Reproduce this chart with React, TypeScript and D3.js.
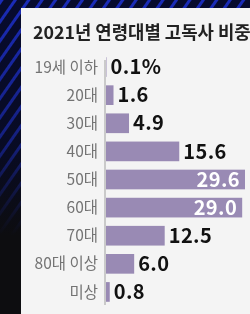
import React from 'react';
import * as d3 from 'd3';

const categories = ['19세 이하', '20대', '30대', '40대', '50대', '60대', '70대', '80대 이상', '미상'];
const values = [0.1, 1.6, 4.9, 15.6, 29.6, 29.0, 12.5, 6.0, 0.8];
const valueLabels = ['0.1%', '1.6', '4.9', '15.6', '29.6', '29.0', '12.5', '6.0', '0.8'];
const title = '2021년 연령대별 고독사 비중';

const W = 250;
const H = 314;
const PANEL_X = 21;
const PANEL_Y = 8;
const AXIS_X = 105;

const App: React.FC = () => {
  const y = d3.scaleBand<string>()
    .domain(categories)
    .range([53, 306])
    .paddingInner(0.3)
    .paddingOuter(0.15);

  const x = d3.scaleLinear()
    .domain([0, 29.6])
    .range([AXIS_X + 1, 245]);

  const font = '"Noto Sans CJK KR", "Noto Sans", sans-serif';

  return (
    <div style={{ position: 'fixed', left: 0, top: 0 }}>
      <svg width={W} height={H} style={{ display: 'block' }}>
        <defs>
          <pattern id="stripes" width="11" height="11" patternUnits="userSpaceOnUse" patternTransform="rotate(35)">
            <rect width="11" height="11" fill="#070b2e" />
            <rect width="3" height="11" fill="#1a2bb8" />
          </pattern>
          <linearGradient id="fade" x1="0" y1="0" x2="0" y2="1">
            <stop offset="0" stopColor="#0b0b12" stopOpacity="0" />
            <stop offset="0.45" stopColor="#0b0b12" stopOpacity="0.35" />
            <stop offset="0.75" stopColor="#0d0d10" stopOpacity="1" />
          </linearGradient>
        </defs>
        <rect width={W} height={H} fill="url(#stripes)" />
        <rect width={W} height={H} fill="url(#fade)" />

        {/* light card */}
        <rect x={PANEL_X} y={PANEL_Y} width={W - PANEL_X} height={H - PANEL_Y} fill="#f4f4f4" />

        <text x={33} y={39} fontFamily={font} fontSize={17.8} fontWeight={700} fill="#222">
          {title}
        </text>

        {/* bars */}
        {categories.map((c, i) => (
          <rect key={c} x={x(0)} y={y(c)} width={x(values[i]) - x(0)}
            height={y.bandwidth()} fill="#998ab4" />
        ))}

        {/* baseline */}
        <line x1={AXIS_X} x2={AXIS_X} y1={60} y2={305} stroke="#bdbdbd" strokeWidth={1.5} />

        {/* category labels */}
        {categories.map(c => (
          <text key={'c' + c} x={98} y={(y(c) ?? 0) + y.bandwidth() / 2} dy="0.36em"
            textAnchor="end" fontFamily={font} fontSize={15.5} fill="#737373">
            {c}
          </text>
        ))}

        {/* value labels */}
        {categories.map((c, i) => {
          const inside = values[i] > 20;
          return (
            <text key={'v' + c}
              x={inside ? x(values[i]) - 5 : x(values[i]) + 4}
              y={(y(c) ?? 0) + y.bandwidth() / 2} dy="0.36em"
              textAnchor={inside ? 'end' : 'start'}
              fontFamily={font} fontSize={20} fontWeight={700} letterSpacing={0.4}
              fill={inside ? '#fff' : '#111'}>
              {valueLabels[i]}
            </text>
          );
        })}
      </svg>
    </div>
  );
};

export default App;
